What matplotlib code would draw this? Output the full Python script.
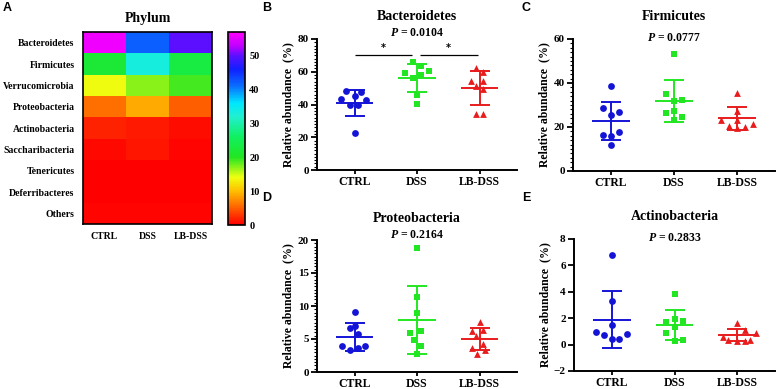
import numpy as np
import matplotlib
matplotlib.use("Agg")
import matplotlib.pyplot as plt
from matplotlib.colors import LinearSegmentedColormap
from matplotlib.ticker import AutoMinorLocator, MultipleLocator

# ---------------- data ----------------
groups = ["CTRL", "DSS", "LB-DSS"]
phyla = ["Bacteroidetes", "Firmicutes", "Verrucomicrobia", "Proteobacteria",
         "Actinobacteria", "Saccharibacteria", "Tenericutes", "Deferribacteres", "Others"]
heat_ctrl = [56, 22, 14, 6, 2.0, 0.5, 0.2, 0.2, 0.3]
heat_dss = [42, 33, 17, 9, 1.5, 1.2, 0.2, 0.2, 0.3]
heat_lb = [50, 23, 19, 5, 0.7, 0.3, 0.2, 0.1, 0.3]

bact_ctrl = [48, 47.5, 43.5, 45, 43, 40, 40, 22.7]
bact_dss = [66, 63.5, 59.5, 60.5, 58, 56, 46, 40.5]
bact_lb = [62.5, 60, 54.5, 54.5, 51, 49.5, 34, 34.5]
bact_mean = [41.0, 56.3, 50.1]
bact_sd = [7.9, 8.7, 10.5]
bact_p = "0.0104"

firm_ctrl = [38.5, 28.6, 26.8, 25.5, 16.5, 15.8, 17.6, 12.0]
firm_dss = [53.3, 35.2, 32.0, 32.4, 26.4, 27.1, 23.3, 24.7]
firm_lb = [35.6, 27.3, 23.3, 23.0, 20.3, 19.7, 20.0, 21.2]
firm_mean = [22.7, 31.8, 23.9]
firm_sd = [8.6, 9.6, 5.4]
firm_p = "0.0777"

prot_ctrl = [9.1, 6.6, 6.9, 5.7, 3.9, 3.4, 3.6, 3.9]
prot_dss = [18.8, 11.4, 8.9, 6.2, 5.9, 4.9, 4.0, 2.8]
prot_lb = [7.6, 6.2, 6.3, 5.4, 4.3, 3.7, 3.3, 2.8]
prot_mean = [5.35, 7.86, 5.0]
prot_sd = [2.1, 5.2, 1.7]
prot_p = "0.2164"

acti_ctrl = [6.78, 3.3, 1.5, 0.95, 0.72, 0.42, 0.45, 0.82]
acti_dss = [3.83, 1.95, 1.75, 1.82, 1.3, 0.85, 0.25, 0.35]
acti_lb = [1.62, 1.07, 0.87, 0.57, 0.33, 0.3, 0.3, 0.37]
acti_mean = [1.88, 1.5, 0.73]
acti_sd = [2.17, 1.15, 0.45]
acti_p = "0.2833"

# ---------------- style ----------------
W, H = 777, 389
SERIF = "Liberation Serif"
SANS = "Liberation Sans"
colors = ["#1414d6", "#22e622", "#e81c1c"]
markers = ["o", "s", "^"]

plt.rcParams["mathtext.fontset"] = "custom"
plt.rcParams["mathtext.bfit"] = "Liberation Serif:bold:italic"
plt.rcParams["mathtext.it"] = "Liberation Serif:italic:bold"

# horizontal jitter of points (layout only)
off_b = [[-0.14, 0.11, -0.21, 0.0, 0.18, -0.08, 0.05, 0.0],
         [-0.06, 0.06, -0.19, 0.19, 0.06, -0.06, 0.0, 0.0],
         [-0.06, 0.06, -0.13, 0.06, -0.06, 0.06, -0.06, 0.06]]
off_c = [[0.0, -0.12, 0.13, 0.0, -0.12, 0.0, 0.13, 0.0],
         [0.0, -0.12, 0.0, 0.13, -0.12, 0.0, 0.0, 0.13],
         [0.0, 0.0, -0.25, 0.0, -0.13, 0.0, 0.12, 0.25]]
off_d = [[0.0, -0.07, 0.0, 0.05, -0.2, -0.07, 0.05, 0.17],
         [0.0, 0.0, 0.0, 0.06, -0.12, -0.05, 0.06, 0.0],
         [0.0, -0.12, 0.06, -0.06, 0.06, -0.12, 0.08, -0.04]]
off_e = [[0.0, 0.0, 0.0, -0.25, -0.13, 0.0, 0.12, 0.25],
         [0.0, 0.0, -0.13, 0.13, 0.0, -0.13, 0.0, 0.13],
         [0.0, 0.12, 0.3, -0.23, -0.15, 0.0, 0.12, 0.2]]

fig = plt.figure(figsize=(W / 100, H / 100), dpi=100)


def fax(x0, y0, x1, y1):
    return fig.add_axes([x0 / W, 1 - y1 / H, (x1 - x0) / W, (y1 - y0) / H])


def ftext(x, y, s, **kw):
    fig.text(x / W, 1 - y / H, s, **kw)


# ---------------- panel A: heatmap ----------------
cmap = LinearSegmentedColormap.from_list("rb", [
    (0.0, "#ff0000"), (5 / 57, "#ff6000"), (10 / 57, "#ffbf00"), (14 / 57, "#f0ff10"),
    (20 / 57, "#22e622"), (26 / 57, "#10f060"), (32 / 57, "#20f0d0"), (36 / 57, "#00e8ff"),
    (41 / 57, "#0a70ff"), (46 / 57, "#1020ff"), (50 / 57, "#5a10ff"), (53 / 57, "#c000ff"),
    (1.0, "#ff00ff")])
axA = fax(83, 32, 212, 224)
mat = np.array([heat_ctrl, heat_dss, heat_lb]).T
im = axA.imshow(mat, cmap=cmap, vmin=0, vmax=57, aspect="auto")
axA.set_xticks(range(3))
axA.set_xticklabels(groups, fontfamily=SERIF, fontweight="bold", fontsize=7)
axA.set_yticks(range(len(phyla)))
axA.set_yticklabels(phyla, fontfamily=SERIF, fontweight="bold", fontsize=7)
axA.tick_params(length=0, pad=6)
for s in axA.spines.values():
    s.set_linewidth(1.2)
axA.set_title("Phylum", fontfamily=SERIF, fontweight="bold", fontsize=10, pad=7)

cax = fax(228, 32, 245, 225)
cb = fig.colorbar(im, cax=cax)
cb.set_ticks([0, 10, 20, 30, 40, 50])
cb.ax.tick_params(length=0, pad=3)
for lab in cb.ax.get_yticklabels():
    lab.set_fontfamily(SERIF)
    lab.set_fontweight("bold")
    lab.set_fontsize(7.5)
cb.outline.set_linewidth(1.2)


# ---------------- scatter panels ----------------
def scatter_panel(box, series, means, sds, offs, ylim, major, minor, title, p, title_y, p_y):
    ax = fax(*box)
    for i, vals in enumerate(series):
        xs = [i + o for o in offs[i]]
        ax.scatter(xs, vals, marker=markers[i], color=colors[i], s=24, zorder=3, linewidths=0)
        ax.hlines(means[i], i - 0.3, i + 0.3, color=colors[i], lw=1.4, zorder=2)
        ax.errorbar([i], [means[i]], yerr=[sds[i]], fmt="none", ecolor=colors[i],
                    elinewidth=1.4, capsize=7, capthick=1.4, zorder=2)
    ax.set_xlim(-0.6, 2.6)
    ax.set_ylim(*ylim)
    ax.yaxis.set_major_locator(MultipleLocator(major))
    if minor:
        ax.yaxis.set_minor_locator(AutoMinorLocator(minor))
    ax.set_xticks(range(3))
    ax.set_xticklabels(groups, fontfamily=SERIF, fontweight="bold", fontsize=8.5)
    for lab in ax.get_yticklabels():
        lab.set_fontfamily(SERIF)
        lab.set_fontweight("bold")
        lab.set_fontsize(8)
    ax.spines["top"].set_visible(False)
    ax.spines["right"].set_visible(False)
    ax.spines["left"].set_linewidth(1.4)
    ax.spines["bottom"].set_linewidth(1.4)
    ax.tick_params(axis="y", which="major", length=4, width=1.3, pad=2)
    ax.tick_params(axis="x", which="major", length=3, width=1.3, pad=1)
    ax.tick_params(axis="y", which="minor", length=2, width=0.8)
    ax.set_ylabel("Relative abundance  (%)", fontfamily=SERIF, fontweight="bold", fontsize=8.5,
                  labelpad=2)
    bb = ax.get_position()
    cx = (bb.x0 + bb.x1) / 2 * W
    ftext(cx, title_y, title, fontfamily=SERIF, fontweight="bold", fontsize=10,
          ha="center", va="center")
    ftext(cx, p_y, r"$\bfit{P}$" + " = " + p, fontfamily=SERIF, fontweight="bold", fontsize=8.5,
          ha="center", va="center")
    return ax


axB = scatter_panel((317, 39, 517, 170), [bact_ctrl, bact_dss, bact_lb], bact_mean, bact_sd, off_b,
                    (0, 80), 20, 10, "Bacteroidetes", bact_p, 17, 33)
# significance brackets
axB.hlines(70.5, 0.0, 0.92, color="black", lw=0.9)
axB.hlines(70.5, 1.05, 1.98, color="black", lw=0.9)
axB.text(0.46, 71.5, "*", ha="center", va="bottom", fontsize=7, fontweight="bold")
axB.text(1.5, 71.5, "*", ha="center", va="bottom", fontsize=7, fontweight="bold")

scatter_panel((573, 39, 775, 171), [firm_ctrl, firm_dss, firm_lb], firm_mean, firm_sd, off_c,
              (0, 60), 20, 10, "Firmicutes", firm_p, 17, 38)
scatter_panel((317, 240, 517, 372), [prot_ctrl, prot_dss, prot_lb], prot_mean, prot_sd, off_d,
              (0, 20), 5, 10, "Proteobacteria", prot_p, 218, 235)
scatter_panel((574, 239, 775, 371), [acti_ctrl, acti_dss, acti_lb], acti_mean, acti_sd, off_e,
              (-2, 8), 2, None, "Actinobacteria", acti_p, 217, 238)

# panel letters
for lt, (x, y) in zip("ABCDE", [(3, 8), (262, 8), (522, 8), (262, 198), (522, 198)]):
    ftext(x, y, lt, fontfamily=SANS, fontweight="bold", fontsize=9, ha="left", va="center")

fig.savefig("out.png", dpi=100)
